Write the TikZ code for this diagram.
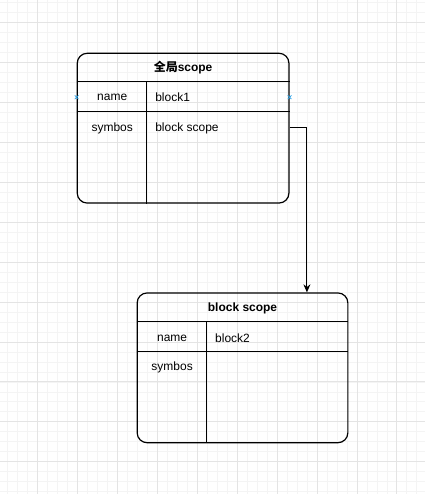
\documentclass[tikz,border=0pt]{standalone}
\usepackage{fontspec}
\setmainfont{Liberation Sans}
\newfontfamily\cjk{Noto Sans CJK SC}
\usetikzlibrary{arrows.meta,positioning,calc,shapes.misc}
\definecolor{gridminor}{RGB}{244,244,244}
\definecolor{gridmajor}{RGB}{228,228,228}
\definecolor{hintblue}{RGB}{40,160,230}

\begin{document}
\begin{tikzpicture}[x=1pt,y=-1pt,
    box/.style={rectangle,draw,line width=1.2pt,rounded corners=10pt,minimum width=212pt,minimum height=150pt,inner sep=0pt},
    rule/.style={line width=1.1pt},
    cell/.style={font=\fontsize{12}{14}\selectfont,inner sep=0pt},
    head/.style={font=\fontsize{12}{14}\selectfont\bfseries,inner sep=0pt},
    hint/.style={draw=hintblue,cross out,minimum size=3pt,inner sep=0pt,line width=0.7pt},
    flow/.style={-{Stealth[length=8pt,width=7pt]},line width=1.1pt}]

    % grid background
    \fill[white] (0,0) rectangle (425,494);
    \foreach \x in {7,17,...,417} \draw[gridminor,line width=0.6pt] (\x,0) -- (\x,494);
    \foreach \y in {2,12,...,492} \draw[gridminor,line width=0.6pt] (0,\y) -- (425,\y);
    \foreach \x in {37,77,...,417} \draw[gridmajor,line width=0.7pt] (\x,0) -- (\x,494);
    \foreach \y in {22,62,...,482} \draw[gridmajor,line width=0.7pt] (0,\y) -- (425,\y);

    % global scope table
    \node[box] (glob) at (183,128) {};
    \draw[rule] ($(glob.north west)+(0,29)$) -- ($(glob.north east)+(0,29)$);
    \draw[rule] ($(glob.north west)+(0,59)$) -- ($(glob.north east)+(0,59)$);
    \draw[rule] ($(glob.north west)+(70,29)$) -- ($(glob.south west)+(70,0)$);
    \node[head] (globtitle) at (183,67) {{\cjk 全局}scope};
    \node[cell] (globname) at (112,97) {name};
    \node[cell,anchor=west] (globval) at (155,97) {block1};
    \node[cell] (globsym) at (112,128) {symbos};
    \node[cell,anchor=west] (globsymval) at (155,128) {block scope};
    \node[hint] (hintl) at (glob.west |- globname) {};
    \node[hint] (hintr) at (glob.east |- globname) {};

    % block scope table
    \node[box,minimum width=211pt] (blk) at (242.5,368) {};
    \draw[rule] ($(blk.north west)+(0,29)$) -- ($(blk.north east)+(0,29)$);
    \draw[rule] ($(blk.north west)+(0,59)$) -- ($(blk.north east)+(0,59)$);
    \draw[rule] ($(blk.north west)+(70,29)$) -- ($(blk.south west)+(70,0)$);
    \node[head] (blktitle) at (242.5,308) {block scope};
    \node[cell] (blkname) at (172,338) {name};
    \node[cell,anchor=west] (blkval) at (215,338) {block2};
    \node[cell] (blksym) at (172,368) {symbos};

    % link
    \coordinate (bend) at (307,127);
    \draw[flow] (glob.east |- bend) -- (bend) -- (bend |- blk.north);
\end{tikzpicture}
\end{document}
